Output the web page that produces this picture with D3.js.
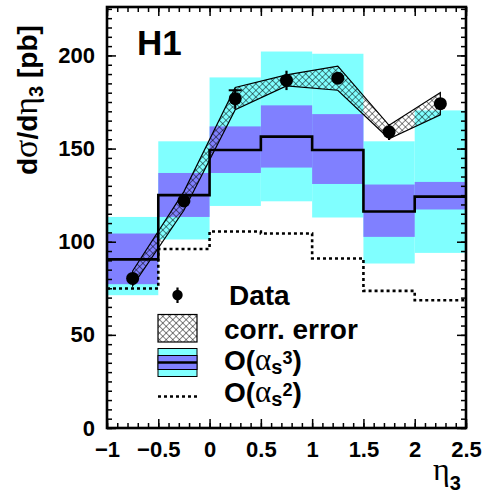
<!DOCTYPE html>
<html>
<head>
<meta charset="utf-8">
<script src="https://cdn.jsdelivr.net/npm/d3@7"></script>
<style>
  body { margin: 0; background: white; }
  svg { display: block; font-family: "Liberation Sans", Arial, sans-serif; font-weight: bold; }
</style>
</head>
<body>
<div id="chart"></div>
<script>
// eta_3 bins and the cross-section values per bin
const binEdges = [-1, -0.5, 0, 0.5, 1, 1.5, 2, 2.5];
const etaCentres = [-0.75, -0.25, 0.25, 0.75, 1.25, 1.75, 2.25];

const dataValues = [80.3, 121.9, 176.8, 186.6, 187.8, 158.9, 174.1];
const dataErrors = [2, 2.5, 5.5, 5.2, 3, 4.3, 3];
const corrErrors = [4, 5, 6, 3, 6.5, 3.6, 6];

// O(as^3): central value, inner (blue) and outer (cyan) uncertainty bands
const nloCentral = [90.5, 125, 149.2, 156.4, 149.2, 116.2, 124.2];
const nloInnerLow = [77.2, 113.3, 136.9, 139.8, 131, 102.6, 117.3];
const nloInnerHigh = [104.4, 136.9, 161.9, 173.2, 168.5, 130.7, 132.1];
const nloOuterLow = [71.3, 101.2, 119.2, 121.7, 113, 88.3, 94];
const nloOuterHigh = [113.3, 153.9, 188.2, 202.1, 200.9, 153.9, 170.5];

// O(as^2)
const loValues = [74.9, 96.1, 105.5, 104.4, 91, 73.6, 68.6];

const xTicks = [-1, -0.5, 0, 0.5, 1, 1.5, 2, 2.5];
const yTicks = [0, 50, 100, 150, 200];

const width = 488, height = 497;
const margin = {top: 7, right: 22, bottom: 69, left: 107};

const cyan = "#80ffff", blue = "#8080ff";

const svg = d3.select("#chart").append("svg")
  .attr("width", width)
  .attr("height", height);

const x = d3.scaleLinear().domain([-1, 2.5]).range([margin.left, width - margin.right]);
const y = d3.scaleLinear().domain([0, 226]).range([height - margin.bottom, margin.top]);

const defs = svg.append("defs");
const hatch = defs.append("pattern")
  .attr("id", "hatch")
  .attr("patternUnits", "userSpaceOnUse")
  .attr("width", 4.7).attr("height", 4.7)
  .attr("patternTransform", "rotate(45)");
hatch.append("path")
  .attr("d", "M0,0H4.7M0,0V4.7")
  .attr("stroke", "black").attr("stroke-width", 0.95).attr("fill", "none");

defs.append("clipPath").attr("id", "plotClip")
  .append("rect")
  .attr("x", x(-1)).attr("y", y(226))
  .attr("width", x(2.5) - x(-1)).attr("height", y(0) - y(226));

const plot = svg.append("g").attr("clip-path", "url(#plotClip)");

const bins = d3.range(etaCentres.length);

// uncertainty bands, outer first
function bandRects(low, high, color) {
  plot.append("g").selectAll("rect")
    .data(bins)
    .join("rect")
    .attr("x", i => x(binEdges[i]))
    .attr("width", i => x(binEdges[i + 1]) - x(binEdges[i]))
    .attr("y", i => y(high[i]))
    .attr("height", i => y(low[i]) - y(high[i]))
    .attr("fill", color);
}
bandRects(nloOuterLow, nloOuterHigh, cyan);
bandRects(nloInnerLow, nloInnerHigh, blue);

// step histogram path through the bin edges
function stepPath(values) {
  const pts = [];
  bins.forEach(i => {
    pts.push([x(binEdges[i]), y(values[i])]);
    pts.push([x(binEdges[i + 1]), y(values[i])]);
  });
  return d3.line()(pts);
}

plot.append("path")
  .attr("d", stepPath(nloCentral))
  .attr("fill", "none").attr("stroke", "black").attr("stroke-width", 2.6);

plot.append("path")
  .attr("d", stepPath(loValues))
  .attr("fill", "none").attr("stroke", "black").attr("stroke-width", 2.6)
  .attr("stroke-dasharray", "3,3");

// correlated error band joining the data points
const corrArea = d3.area()
  .x(i => x(etaCentres[i]))
  .y0(i => y(dataValues[i] - corrErrors[i]))
  .y1(i => y(dataValues[i] + corrErrors[i]));

plot.append("path")
  .attr("d", corrArea(bins) + "Z")
  .attr("fill", "url(#hatch)")
  .attr("stroke", "black").attr("stroke-width", 1.2);

// data points with error bars
const pts = plot.append("g");
pts.selectAll("line")
  .data(bins)
  .join("line")
  .attr("x1", i => x(etaCentres[i])).attr("x2", i => x(etaCentres[i]))
  .attr("y1", i => y(dataValues[i] - dataErrors[i]))
  .attr("y2", i => y(dataValues[i] + dataErrors[i]))
  .attr("stroke", "black").attr("stroke-width", 2.2);
pts.selectAll("circle")
  .data(bins)
  .join("circle")
  .attr("cx", i => x(etaCentres[i]))
  .attr("cy", i => y(dataValues[i]))
  .attr("r", 6.5)
  .attr("fill", "black");
// stat error cap on the third point
pts.append("line")
  .attr("x1", x(etaCentres[2]) - 6.5).attr("x2", x(etaCentres[2]) + 6.5)
  .attr("y1", y(dataValues[2] + dataErrors[2] - 1)).attr("y2", y(dataValues[2] + dataErrors[2] - 1))
  .attr("stroke", "black").attr("stroke-width", 2);

// axes: ticks point inwards on all four sides
const fmt = d => d3.format("")(d).replace("-", "\u2212");
const xMinor = d3.range(-1, 2.5001, 0.1).map(d => +d.toFixed(1));
const yMinor = d3.range(0, 226, 5);

function axisGroup(axis, tx, ty) {
  const g = svg.append("g").attr("transform", `translate(${tx},${ty})`).call(axis);
  g.select(".domain").remove();
  g.selectAll("line").attr("stroke", "black").attr("stroke-width", 1.5);
  g.selectAll("text")
    .attr("font-family", "Liberation Sans, Arial, sans-serif")
    .attr("font-weight", "bold").attr("font-size", 22).attr("fill", "black");
  return g;
}

axisGroup(d3.axisBottom(x).tickValues(xTicks).tickFormat(fmt).tickSize(-9).tickPadding(13), 0, y(0));
axisGroup(d3.axisBottom(x).tickValues(xMinor).tickFormat("").tickSize(-5), 0, y(0));
axisGroup(d3.axisTop(x).tickValues(xTicks).tickFormat("").tickSize(-9), 0, y(226));
axisGroup(d3.axisTop(x).tickValues(xMinor).tickFormat("").tickSize(-5), 0, y(226));
axisGroup(d3.axisLeft(y).tickValues(yTicks).tickFormat(fmt).tickSize(-9).tickPadding(12), x(-1), 0);
axisGroup(d3.axisLeft(y).tickValues(yMinor).tickFormat("").tickSize(-5), x(-1), 0);
axisGroup(d3.axisRight(y).tickValues(yTicks).tickFormat("").tickSize(-9), x(2.5), 0);
axisGroup(d3.axisRight(y).tickValues(yMinor).tickFormat("").tickSize(-5), x(2.5), 0);

svg.append("rect")
  .attr("x", x(-1)).attr("y", y(226))
  .attr("width", x(2.5) - x(-1)).attr("height", y(0) - y(226))
  .attr("fill", "none").attr("stroke", "black").attr("stroke-width", 2.6);

const greek = "Liberation Serif, Times New Roman, serif";

// axis titles
const yTitle = svg.append("text")
  .attr("transform", "translate(37,175) rotate(-90)")
  .attr("font-size", 28);
yTitle.append("tspan").text("d");
yTitle.append("tspan").attr("font-family", greek).attr("font-weight", "normal").attr("font-size", 34).text("\u03c3");
yTitle.append("tspan").text("/d");
yTitle.append("tspan").attr("font-family", greek).attr("font-weight", "normal").attr("font-size", 34).text("\u03b7");
yTitle.append("tspan").attr("font-size", 20).attr("dy", 6).text("3");
yTitle.append("tspan").attr("dy", -6).text(" [pb]");

const xTitle = svg.append("text")
  .attr("x", 433).attr("y", 480);
xTitle.append("tspan").attr("font-family", greek).attr("font-weight", "normal").attr("font-size", 32).text("\u03b7");
xTitle.append("tspan").attr("font-size", 20).attr("dy", 10).text("3");

svg.append("text")
  .attr("x", 137).attr("y", 55)
  .attr("font-size", 35)
  .text("H1");

// legend
const lg = svg.append("g");
const lgX = 158, lgW = 39, lgText = 224;

lg.append("line")
  .attr("x1", lgX + lgW / 2).attr("x2", lgX + lgW / 2)
  .attr("y1", 287.5).attr("y2", 303)
  .attr("stroke", "black").attr("stroke-width", 2.2);
lg.append("circle").attr("cx", lgX + lgW / 2).attr("cy", 295).attr("r", 5.2).attr("fill", "black");

lg.append("rect").attr("x", lgX).attr("y", 314.5).attr("width", lgW).attr("height", 27.5)
  .attr("fill", "white");
lg.append("rect").attr("x", lgX).attr("y", 314.5).attr("width", lgW).attr("height", 27.5)
  .attr("fill", "url(#hatch)").attr("stroke", "black").attr("stroke-width", 1.2);

lg.append("rect").attr("x", lgX).attr("y", 348.5).attr("width", lgW).attr("height", 28)
  .attr("fill", cyan).attr("stroke", "black").attr("stroke-width", 1);
lg.append("rect").attr("x", lgX).attr("y", 355.5).attr("width", lgW).attr("height", 14)
  .attr("fill", blue).attr("stroke", "black").attr("stroke-width", 1);
lg.append("line").attr("x1", lgX).attr("x2", lgX + lgW).attr("y1", 362.5).attr("y2", 362.5)
  .attr("stroke", "black").attr("stroke-width", 2.4);

lg.append("line").attr("x1", lgX).attr("x2", lgX + lgW).attr("y1", 396.5).attr("y2", 396.5)
  .attr("stroke", "black").attr("stroke-width", 2.4).attr("stroke-dasharray", "3,3");

const lgFont = 28;
lg.append("text").attr("x", 229).attr("y", 305).attr("font-size", lgFont).text("Data");
lg.append("text").attr("x", lgText).attr("y", 339).attr("font-size", lgFont).text("corr. error");

function alphaLabel(power, yBase) {
  const t = lg.append("text").attr("x", lgText).attr("y", yBase).attr("font-size", lgFont);
  t.append("tspan").text("O(");
  t.append("tspan").attr("font-family", greek).attr("font-weight", "normal").attr("font-size", 31).text("\u03b1");
  t.append("tspan").attr("font-size", 20).attr("dy", 4).text("s");
  t.append("tspan").attr("font-size", 18).attr("dy", -10).text(power);
  t.append("tspan").attr("dy", 6).text(")");
}
alphaLabel("3", 370);
alphaLabel("2", 402);
</script>
</body>
</html>
